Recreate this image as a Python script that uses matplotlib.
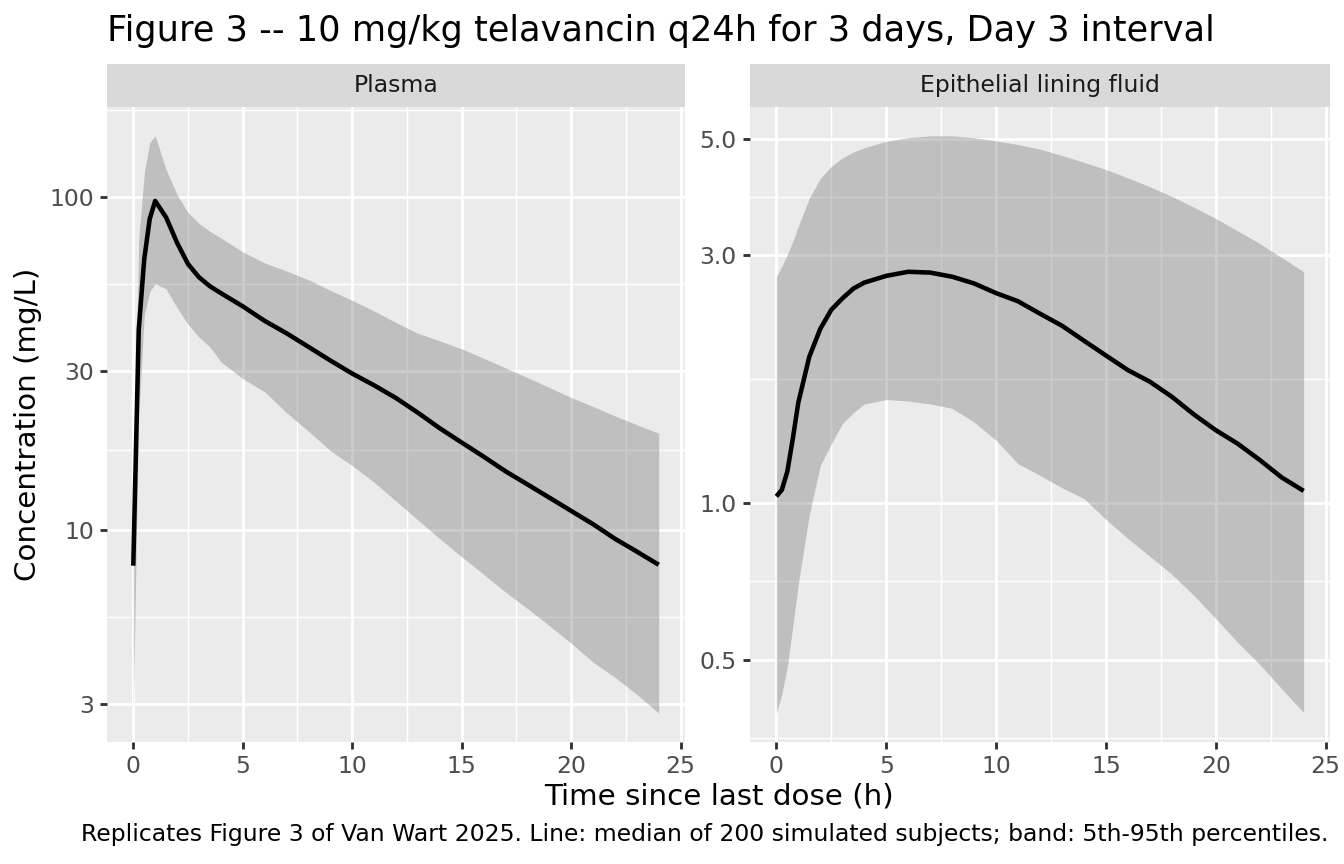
import matplotlib
matplotlib.use("Agg")
import matplotlib.pyplot as plt
import numpy as np
from matplotlib.ticker import FixedLocator, FixedFormatter, NullFormatter

# ---------------- data ----------------
time_h = [0, 0.25, 0.5, 0.75, 1, 1.5, 2, 2.5, 3, 3.5, 4, 5, 6, 7, 8, 9, 10,
          11, 12, 13, 14, 15, 16, 17, 18, 19, 20, 21, 22, 23, 24]

plasma_median = [7.8, 40, 65, 86, 97.5, 87, 73, 63, 57.5, 54, 51.5, 47, 42.5,
                 39, 35.5, 32.3, 29.5, 27.2, 24.9, 22.5, 20.2, 18.3, 16.6, 15.0,
                 13.7, 12.5, 11.4, 10.4, 9.4, 8.6, 7.85]
plasma_p95 = [11, 75, 118, 146, 153, 121, 102, 90, 83.5, 79, 75.5, 68.5, 63.5,
              60, 56.5, 52.5, 49, 45.5, 42, 39, 37, 35, 32.8, 30.7, 28.7, 26.8,
              25, 23.5, 22, 20.7, 19.5]
plasma_p05 = [2.9, 22, 44, 52, 55, 53, 46.5, 41.5, 38, 35.5, 32, 28.5, 26,
              22.5, 19.8, 17.3, 15.6, 13.9, 12.2, 10.7, 9.4, 8.3, 7.35, 6.5,
              5.8, 5.15, 4.56, 4.0, 3.6, 3.2, 2.81]

elf_median = [1.03, 1.06, 1.15, 1.33, 1.56, 1.91, 2.16, 2.35, 2.47, 2.58, 2.65,
              2.73, 2.78, 2.77, 2.72, 2.64, 2.53, 2.44, 2.31, 2.19, 2.05, 1.92,
              1.80, 1.71, 1.60, 1.48, 1.38, 1.30, 1.21, 1.12, 1.055]
elf_p95 = [2.72, 2.85, 3.0, 3.18, 3.4, 3.85, 4.2, 4.43, 4.6, 4.72, 4.81, 4.95,
           5.03, 5.07, 5.07, 5.03, 4.96, 4.88, 4.78, 4.65, 4.51, 4.37, 4.21,
           4.05, 3.88, 3.7, 3.52, 3.33, 3.15, 2.96, 2.78]
elf_p05 = [0.395, 0.43, 0.485, 0.58, 0.70, 0.95, 1.18, 1.30, 1.42, 1.49, 1.55,
           1.58, 1.57, 1.55, 1.52, 1.43, 1.32, 1.19, 1.13, 1.07, 1.02, 0.93,
           0.855, 0.79, 0.73, 0.665, 0.60, 0.54, 0.49, 0.44, 0.396]

facet_labels = ["Plasma", "Epithelial lining fluid"]
plasma_breaks = [3, 10, 30, 100]
plasma_break_labels = ["3", "10", "30", "100"]
elf_breaks = [0.5, 1.0, 3.0, 5.0]
elf_break_labels = ["0.5", "1.0", "3.0", "5.0"]
x_breaks = [0, 5, 10, 15, 20, 25]

title = "Figure 3 -- 10 mg/kg telavancin q24h for 3 days, Day 3 interval"
xlab = "Time since last dose (h)"
ylab = "Concentration (mg/L)"
caption = ("Replicates Figure 3 of Van Wart 2025. Line: median of 200 simulated "
           "subjects; band: 5th-95th percentiles.")

# ---------------- layout ----------------
W, H = 1344, 864
fig = plt.figure(figsize=(7, 4.5), dpi=192)
fig.patch.set_facecolor("white")


def rect(x0, x1, y0, y1):
    return [x0 / W, 1 - y1 / H, (x1 - x0) / W, (y1 - y0) / H]


def minor_breaks(major, lo, hi):
    b = list(major)
    bd = b[1] - b[0]
    if lo < b[0]:
        b = [b[0] - bd] + b
    if hi > b[-1]:
        b = b + [b[-1] + bd]
    mids = [(b[i] + b[i + 1]) / 2 for i in range(len(b) - 1)]
    return [m for m in mids if lo <= m <= hi]


panels = [
    dict(label=facet_labels[0], x0=107, x1=685, med=plasma_median,
         lo=plasma_p05, hi=plasma_p95, breaks=plasma_breaks,
         blabels=plasma_break_labels),
    dict(label=facet_labels[1], x0=750, x1=1330, med=elf_median,
         lo=elf_p05, hi=elf_p95, breaks=elf_breaks,
         blabels=elf_break_labels),
]

PANEL_TOP, PANEL_BOT = 107, 742
STRIP_TOP = 64

t = np.array(time_h)
xlo, xhi = t.min() - 0.05 * (t.max() - t.min()), t.max() + 0.05 * (t.max() - t.min())
x_minor = minor_breaks(x_breaks, xlo, xhi)

for p in panels:
    ax = fig.add_axes(rect(p["x0"], p["x1"], PANEL_TOP, PANEL_BOT))
    ax.set_facecolor("#EBEBEB")
    for s in ax.spines.values():
        s.set_visible(False)
    ax.set_yscale("log")

    allv = np.log10(np.concatenate([p["lo"], p["hi"], p["med"]]))
    lmin, lmax = allv.min(), allv.max()
    pad = 0.05 * (lmax - lmin)
    ylo, yhi = lmin - pad, lmax + pad
    ax.set_ylim(10 ** ylo, 10 ** yhi)
    ax.set_xlim(xlo, xhi)

    # grid (ggplot-like)
    ax.xaxis.set_major_locator(FixedLocator(x_breaks))
    ax.xaxis.set_minor_locator(FixedLocator(x_minor))
    ax.yaxis.set_major_locator(FixedLocator(p["breaks"]))
    ax.yaxis.set_major_formatter(FixedFormatter(p["blabels"]))
    lb = list(np.log10(p["breaks"]))
    ymin_l = [10 ** m for m in minor_breaks(lb, ylo, yhi)]
    ax.yaxis.set_minor_locator(FixedLocator(ymin_l))
    ax.yaxis.set_minor_formatter(NullFormatter())
    ax.xaxis.set_minor_formatter(NullFormatter())
    ax.grid(which="major", color="white", lw=1.07)
    ax.grid(which="minor", color="white", lw=0.53)
    ax.set_axisbelow(True)
    ax.tick_params(which="minor", length=0)
    ax.tick_params(which="major", length=2.75, width=1.07, color="#333333",
                   labelcolor="#4D4D4D", labelsize=8.8, pad=2.2)

    ax.fill_between(time_h, p["lo"], p["hi"], color="#7F7F7F", alpha=0.4,
                    lw=0, zorder=2)
    ax.plot(time_h, p["med"], color="black", lw=1.7, zorder=3,
            solid_capstyle="butt")

    # strip
    sax = fig.add_axes(rect(p["x0"], p["x1"], STRIP_TOP, PANEL_TOP))
    sax.set_facecolor("#D9D9D9")
    for s in sax.spines.values():
        s.set_visible(False)
    sax.set_xticks([])
    sax.set_yticks([])
    sax.text(0.5, 0.5, p["label"], ha="center", va="center",
             fontsize=8.8, color="#1A1A1A", transform=sax.transAxes)

fig.text(107 / W, 1 - 41 / H, title, ha="left", va="baseline",
         fontsize=13.2, color="black")
fig.text((107 + 1330) / 2 / W, 1 - 797 / H, xlab, ha="center", va="center",
         fontsize=11, color="black")
fig.text(28 / W, 1 - (PANEL_TOP + PANEL_BOT) / 2 / H, ylab, ha="center",
         va="center", rotation=90, fontsize=11, color="black")
fig.text(1328 / W, 1 - 835 / H, caption, ha="right", va="center",
         fontsize=8.8, color="black")

fig.savefig("out.png", dpi=192)
